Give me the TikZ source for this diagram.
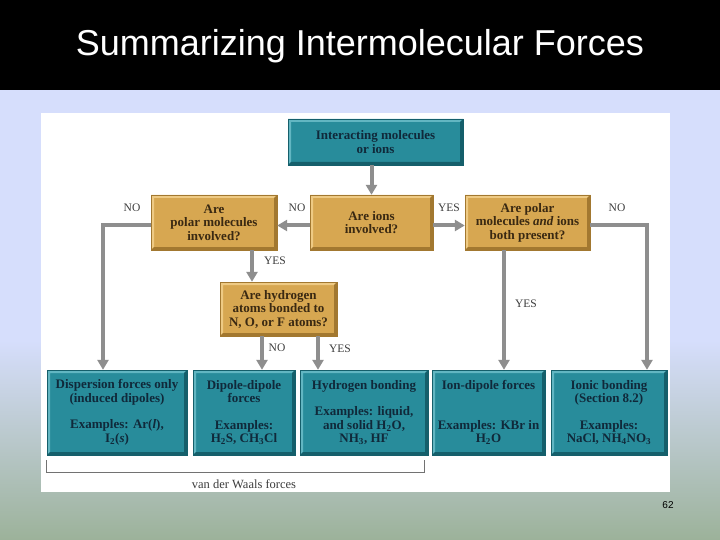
\documentclass[tikz,border=0pt]{standalone}
\usepackage{fontspec}
\setmainfont{Liberation Serif}
\newfontfamily\slidefont{Liberation Sans}
\usetikzlibrary{positioning,arrows.meta,calc}
\definecolor{tealbox}{HTML}{288C9B}
\definecolor{tealhi}{HTML}{62B6C2}
\definecolor{tealdk}{HTML}{155F6B}
\definecolor{inkteal}{HTML}{10293A}
\definecolor{goldbox}{HTML}{D7A751}
\definecolor{goldhi}{HTML}{EECA84}
\definecolor{golddk}{HTML}{A27830}
\definecolor{inkgold}{HTML}{3A2912}
\definecolor{arrgrey}{HTML}{8E8E8E}
\definecolor{inkgrey}{HTML}{3C3C3C}
\definecolor{bgblue}{HTML}{D6DEFC}
\definecolor{bggreen}{HTML}{9CB29A}
\tikzset{bevel/.style 2 args={path picture={
           \fill[#1] (path picture bounding box.south west) -- (path picture bounding box.north west)
             -- (path picture bounding box.north east) -- ([xshift=-3pt,yshift=-3pt]path picture bounding box.north east)
             -- ([xshift=3pt,yshift=-3pt]path picture bounding box.north west) -- ([xshift=3pt,yshift=3pt]path picture bounding box.south west) -- cycle;
           \fill[#2] (path picture bounding box.south west) -- (path picture bounding box.south east)
             -- (path picture bounding box.north east) -- ([xshift=-3pt,yshift=-3pt]path picture bounding box.north east)
             -- ([xshift=-3pt,yshift=3pt]path picture bounding box.south east) -- ([xshift=3pt,yshift=3pt]path picture bounding box.south west) -- cycle;}},
         box/.style={align=center,inner sep=0pt,font=\bfseries\fontsize{13}{13.5}\selectfont},
         tbox/.style={box,fill=tealbox,draw=tealdk,text=inkteal,bevel={tealhi}{tealdk}},
         gbox/.style={box,fill=goldbox,draw=golddk,text=inkgold,bevel={goldhi}{golddk},minimum height=55pt},
         lowbox/.style={tbox,minimum height=85pt},
         arr/.style={-{Triangle[width=11pt,length=10pt]},arrgrey,line width=4pt},
         yn/.style={font=\fontsize{11.5}{13}\selectfont,text=inkgrey},
         brk/.style={draw=arrgrey!80!black,line width=0.8pt}}
\begin{document}
\begin{tikzpicture}[x=1pt,y=-1pt]
 % slide background
 \fill[bgblue] (0,0) rectangle (720,540);
 \shade[top color=bgblue,bottom color=bggreen] (0,340) rectangle (720,540);
 \fill[black] (0,0) rectangle (720,90);
 \node[text=white,font=\slidefont\fontsize{36}{42}\selectfont] (title) at (360,46) {Summarizing Intermolecular Forces};
 \fill[white] (41,113) rectangle (670,492);
 % questions
 \node[tbox,minimum width=175pt,minimum height=46pt] (start) at (375.5,142) {Interacting molecules\\ or ions};
 \node[gbox,minimum width=126pt] (polar) at (214,222.5) {Are\\ polar molecules\\ involved?};
 \node[gbox,minimum width=123pt] (ions) at (371.5,222.5) {Are ions\\ involved?};
 \node[gbox,minimum width=125pt] (both) at (527.5,222.5) {Are polar\\ molecules \textit{and} ions\\ both present?};
 \node[gbox,minimum width=117pt,minimum height=54pt] (hydro) at (278.5,309) {Are hydrogen\\ atoms bonded to\\ N, O, or F atoms?};
 % forces
 \node[lowbox,minimum width=140pt] (disp) at (117,412.5) {Dispersion forces only\\ (induced dipoles)\\[13pt] Examples: Ar(\textit{l}),\\ I\textsubscript{2}(\textit{s})};
 \node[lowbox,minimum width=102pt] (dipdip) at (244,412.5) {Dipole-dipole\\ forces\\[13pt] Examples:\\ H\textsubscript{2}S, CH\textsubscript{3}Cl};
 \node[lowbox,minimum width=128pt] (hbond) at (364,412.5) {Hydrogen bonding\\[13pt] Examples: liquid,\\ and solid H\textsubscript{2}O,\\ NH\textsubscript{3}, HF};
 \node[lowbox,minimum width=113pt] (iondip) at (488.5,412.5) {Ion-dipole forces\\ \mbox{}\\[13pt] Examples: KBr in\\ H\textsubscript{2}O};
 \node[lowbox,minimum width=116pt] (ionic) at (609,412.5) {Ionic bonding\\ (Section 8.2)\\[13pt] Examples:\\ NaCl, NH\textsubscript{4}NO\textsubscript{3}};
 % connectors
 \draw[arr] (start.south -| ions.north) -- (ions.north);
 \draw[arr] ([yshift=-3pt]ions.west) -- ([yshift=-3pt]polar.east);
 \draw[arr] ([yshift=-3pt]ions.east) -- ([yshift=-3pt]both.west);
 \draw[arr] ([yshift=-3pt]polar.west) -| ([xshift=-14pt]disp.north);
 \draw[arr] ([yshift=-3pt]both.east) -| ([xshift=38pt]ionic.north);
 \draw[arr] ([xshift=38pt]polar.south) -- ([xshift=38pt]polar.south |- hydro.north);
 \draw[arr] ([xshift=-16.5pt]hydro.south) -- ([xshift=-16.5pt]hydro.south |- dipdip.north);
 \draw[arr] ([xshift=39.5pt]hydro.south) -- ([xshift=39.5pt]hydro.south |- hbond.north);
 \draw[arr] ([xshift=-23.5pt]both.south) -- ([xshift=-23.5pt]both.south |- iondip.north);
 \node[yn] (noleft) at (132,208) {NO};
 \node[yn] (nomid) at (297,208) {NO};
 \node[yn] (yesmid) at (449,208) {YES};
 \node[yn] (noright) at (617,208) {NO};
 \node[yn] (yespolar) at (275,261) {YES};
 \node[yn] (nohydro) at (277,348) {NO};
 \node[yn] (yeshydro) at (340,349) {YES};
 \node[yn] (yesboth) at (526,304) {YES};
 % van der Waals bracket
 \draw[brk] ([yshift=-5pt]disp.south west) -- ++(0,12) -| ([xshift=-4pt,yshift=-5pt]hbond.south east);
 \node[font=\fontsize{12.5}{14}\selectfont,text=inkgrey] (vdw) at (244,484) {van der Waals forces};
 \node[font=\slidefont\fontsize{10}{12}\selectfont] (pagenum) at (668,505) {62};
\end{tikzpicture}
\end{document}
